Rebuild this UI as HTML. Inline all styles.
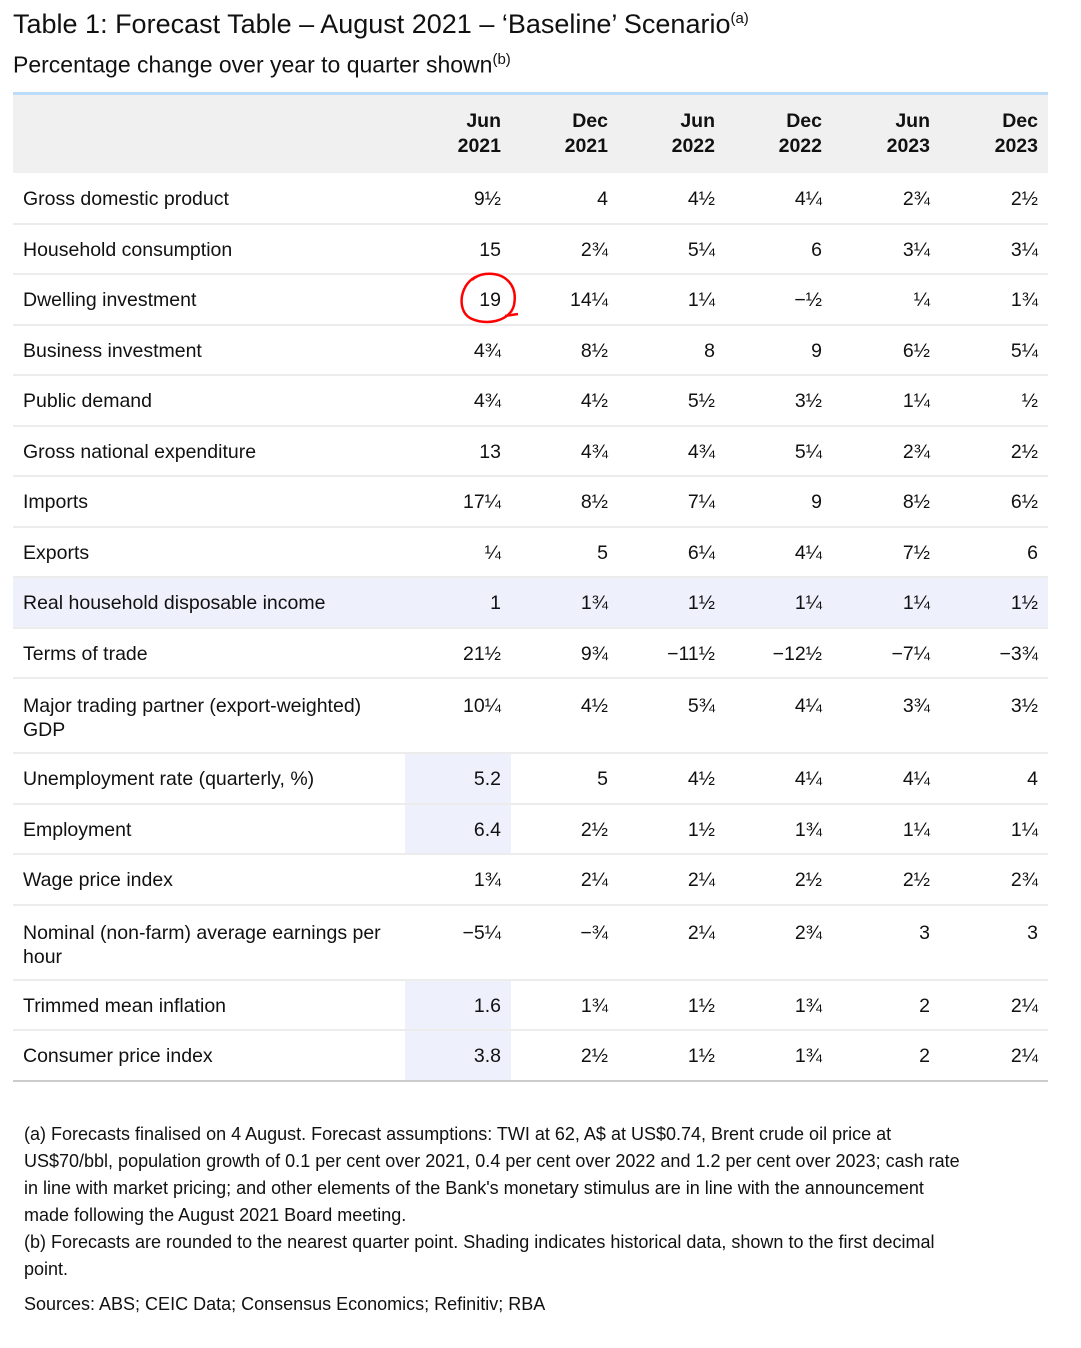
<!DOCTYPE html>
<html><head><meta charset="utf-8"><style>
body{margin:0;background:#fff;font-family:"Liberation Sans",sans-serif;color:#111;width:1081px;height:1348px;position:relative;overflow:hidden}
.t1{position:absolute;left:13px;top:9px;font-size:27px;white-space:nowrap}
.t2{position:absolute;left:13px;top:51px;font-size:23px;white-space:nowrap}
sup{font-size:15px}
table{position:absolute;left:13px;top:92px;width:1035px;border-collapse:collapse;table-layout:fixed;border-top:3px solid #bcdcf7;font-size:19.5px}
th{background:#f0f0f0;height:78px;text-align:right;padding:0 10px 0 0;font-weight:bold;line-height:25px;font-size:19.5px}
td{height:48.5px;border-bottom:2px solid #ececec;text-align:right;padding:3px 10px 0 0;vertical-align:middle;box-sizing:border-box}
td{height:50.5px}
td:first-child{text-align:left;padding:3px 10px 0}
tr.two td{height:75px;vertical-align:top;padding-top:15px;line-height:24px}
tr.two td:first-child{padding-top:15px}
tr.hl td{background:#eef0fb}
td.s{background:#eef0fb}
tr:last-child td{border-bottom:2px solid #ccc}
.fn{position:absolute;left:24px;top:1121px;font-size:18px;line-height:27px;width:940px}
.src{position:absolute;left:24px;top:1294px;font-size:18px}
</style></head><body>
<div class="t1">Table 1: Forecast Table – August 2021 – ‘Baseline’ Scenario<sup>(a)</sup></div>
<div class="t2">Percentage change over year to quarter shown<sup>(b)</sup></div>
<table>
<colgroup><col style="width:392px"><col style="width:106px"><col style="width:107px"><col style="width:107px"><col style="width:107px"><col style="width:108px"><col style="width:108px"></colgroup>
<tr><th></th><th>Jun<br>2021</th><th>Dec<br>2021</th><th>Jun<br>2022</th><th>Dec<br>2022</th><th>Jun<br>2023</th><th>Dec<br>2023</th></tr>
<tr><td>Gross domestic product</td><td>9½</td><td>4</td><td>4½</td><td>4¼</td><td>2¾</td><td>2½</td></tr>
<tr><td>Household consumption</td><td>15</td><td>2¾</td><td>5¼</td><td>6</td><td>3¼</td><td>3¼</td></tr>
<tr><td>Dwelling investment</td><td>19</td><td>14¼</td><td>1¼</td><td>−½</td><td>¼</td><td>1¾</td></tr>
<tr><td>Business investment</td><td>4¾</td><td>8½</td><td>8</td><td>9</td><td>6½</td><td>5¼</td></tr>
<tr><td>Public demand</td><td>4¾</td><td>4½</td><td>5½</td><td>3½</td><td>1¼</td><td>½</td></tr>
<tr><td>Gross national expenditure</td><td>13</td><td>4¾</td><td>4¾</td><td>5¼</td><td>2¾</td><td>2½</td></tr>
<tr><td>Imports</td><td>17¼</td><td>8½</td><td>7¼</td><td>9</td><td>8½</td><td>6½</td></tr>
<tr><td>Exports</td><td>¼</td><td>5</td><td>6¼</td><td>4¼</td><td>7½</td><td>6</td></tr>
<tr class="hl"><td>Real household disposable income</td><td>1</td><td>1¾</td><td>1½</td><td>1¼</td><td>1¼</td><td>1½</td></tr>
<tr><td>Terms of trade</td><td>21½</td><td>9¾</td><td>−11½</td><td>−12½</td><td>−7¼</td><td>−3¾</td></tr>
<tr class="two"><td>Major trading partner (export-weighted) GDP</td><td>10¼</td><td>4½</td><td>5¾</td><td>4¼</td><td>3¾</td><td>3½</td></tr>
<tr><td>Unemployment rate (quarterly, %)</td><td class="s">5.2</td><td>5</td><td>4½</td><td>4¼</td><td>4¼</td><td>4</td></tr>
<tr><td>Employment</td><td class="s">6.4</td><td>2½</td><td>1½</td><td>1¾</td><td>1¼</td><td>1¼</td></tr>
<tr><td>Wage price index</td><td>1¾</td><td>2¼</td><td>2¼</td><td>2½</td><td>2½</td><td>2¾</td></tr>
<tr class="two"><td>Nominal (non-farm) average earnings per hour</td><td>−5¼</td><td>−¾</td><td>2¼</td><td>2¾</td><td>3</td><td>3</td></tr>
<tr><td>Trimmed mean inflation</td><td class="s">1.6</td><td>1¾</td><td>1½</td><td>1¾</td><td>2</td><td>2¼</td></tr>
<tr><td>Consumer price index</td><td class="s">3.8</td><td>2½</td><td>1½</td><td>1¾</td><td>2</td><td>2¼</td></tr>
</table>
<svg style="position:absolute;left:0;top:0" width="1081" height="400"><path d="M478 276 C 460 282,456 310,470 318 C 485 326,510 322,514 305 C 518 285,505 272,485 274 C 478 275,474 278,472 280 M505 316 L518 314" fill="none" stroke="#f00" stroke-width="2.5"/></svg>
<div class="fn">(a) Forecasts finalised on 4 August. Forecast assumptions: TWI at 62, A$ at US$0.74, Brent crude oil price at US$70/bbl, population growth of 0.1 per cent over 2021, 0.4 per cent over 2022 and 1.2 per cent over 2023; cash rate in line with market pricing; and other elements of the Bank's monetary stimulus are in line with the announcement made following the August 2021 Board meeting.<br>(b) Forecasts are rounded to the nearest quarter point. Shading indicates historical data, shown to the first decimal point.</div>
<div class="src">Sources: ABS; CEIC Data; Consensus Economics; Refinitiv; RBA</div>
</body></html>
